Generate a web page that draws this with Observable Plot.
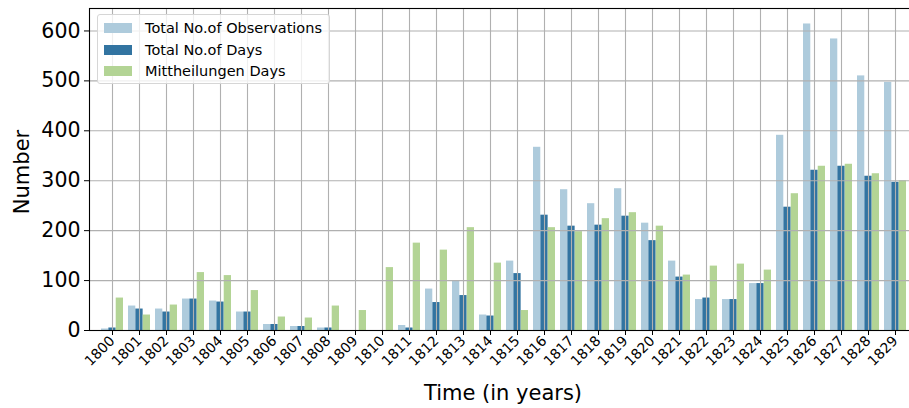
<!DOCTYPE html>
<html>
<head>
<meta charset="utf-8">
<script src="https://cdn.jsdelivr.net/npm/d3@7"></script>
<script src="https://cdn.jsdelivr.net/npm/@observablehq/plot@0.6"></script>
<style>
html, body { margin: 0; padding: 0; background: #fff; overflow: hidden; }
#wrap { position: relative; width: 909px; height: 408px; font-family: "DejaVu Sans", sans-serif; overflow: hidden; }
#wrap svg { display: block; max-width: none !important; }
#wrap svg g[aria-label="y-axis tick label"] text { font-size: 20.5px; }
#wrap svg g[aria-label="x-axis tick label"] text { font-size: 14px; }
.legend { position: absolute; left: 97px; top: 14px; width: 233px; height: 70px; box-sizing: border-box;
  border: 1px solid #d6d6d6; border-radius: 3px; background: rgba(255,255,255,0.8); }
.legend .row { position: absolute; left: 6px; height: 20px; display: flex; align-items: center; }
.legend .sw { width: 28px; height: 10px; margin-right: 13px; }
.legend .lab { font-size: 14.5px; color: #000; white-space: nowrap; }
.title { position: absolute; font-size: 21px; color: #000; white-space: nowrap; }
</style>
</head>
<body>
<div id="wrap"></div>
<script>
const years = ["1800","1801","1802","1803","1804","1805","1806","1807","1808","1809",
  "1810","1811","1812","1813","1814","1815","1816","1817","1818","1819",
  "1820","1821","1822","1823","1824","1825","1826","1827","1828","1829"];
const observations = [3,49,43,63,59,37,12,8,5,0,0,10,83,99,31,139,367,282,254,284,215,139,62,62,94,391,614,584,510,497];
const days = [5,43,37,63,57,37,12,8,5,0,0,5,56,70,29,114,231,209,211,229,180,107,65,62,94,247,321,329,309,297];
const mittheilungen = [65,31,51,116,110,80,27,25,49,40,126,175,161,206,135,40,206,198,224,236,209,111,129,133,121,274,329,333,314,300];
const seriesNames = ["Total No.of Observations", "Total No.of Days", "Mittheilungen Days"];
const yTicks = [0, 100, 200, 300, 400, 500, 600];

const colors = ["#aecbdc", "#3274a1", "#b3d495"];

const rows = years.map((y, i) => ({year: y, obs: observations[i], days: days[i], mitt: mittheilungen[i]}));

// The plot area runs past the picture's right edge (to 917px), as in the original; the wrapper clips at 909px.
const W = 917, H = 408, mL = 89, mT = 8, mB = 78;
const step = (W - mL) / years.length;
const third = step * 0.8 / 3;

const chart = Plot.plot({
  width: W, height: H,
  marginLeft: mL, marginRight: 0, marginTop: mT, marginBottom: mB,
  style: {fontFamily: "DejaVu Sans, sans-serif", background: "white", color: "black", maxWidth: "none"},
  x: {type: "band", domain: years, paddingInner: 0.2, paddingOuter: 0.1, align: 0.5, label: null},
  y: {domain: [0, 645], label: null},
  marks: [
    Plot.barY(rows, {x: "year", y: "obs", fill: colors[0], insetLeft: 0, insetRight: 2 * third}),
    Plot.barY(rows, {x: "year", y: "days", fill: colors[1], insetLeft: third, insetRight: third}),
    Plot.barY(rows, {x: "year", y: "mitt", fill: colors[2], insetLeft: 2 * third, insetRight: 0}),
    Plot.gridY(yTicks, {stroke: "#b0b0b0", strokeOpacity: 1, strokeWidth: 1.1}),
    Plot.gridX(years, {stroke: "#b0b0b0", strokeOpacity: 1, strokeWidth: 1.1}),
    Plot.axisY(yTicks, {tickSize: 5, tickPadding: 4, fontSize: 20.5, label: null}),
    Plot.axisX(years, {tickRotate: -45, tickSize: 5, tickPadding: 3, fontSize: 14, label: null}),
    Plot.frame({stroke: "black", strokeWidth: 1.1})
  ]
});

const wrap = document.getElementById("wrap");
wrap.appendChild(chart);

// Legend
const legend = document.createElement("div");
legend.className = "legend";
seriesNames.forEach((name, i) => {
  const row = document.createElement("div");
  row.className = "row";
  row.style.top = (3 + i * 21.7) + "px";
  const sw = document.createElement("div");
  sw.className = "sw";
  sw.style.background = colors[i];
  const lab = document.createElement("div");
  lab.className = "lab";
  lab.textContent = name;
  row.appendChild(sw);
  row.appendChild(lab);
  legend.appendChild(row);
});
wrap.appendChild(legend);

// Axis titles
const xt = document.createElement("div");
xt.className = "title";
xt.textContent = "Time (in years)";
xt.style.left = "503px"; xt.style.top = "393px";
xt.style.transform = "translate(-50%, -50%)";
wrap.appendChild(xt);

const yt = document.createElement("div");
yt.className = "title";
yt.textContent = "Number";
yt.style.left = "22px"; yt.style.top = "172px";
yt.style.transform = "translate(-50%, -50%) rotate(-90deg)";
wrap.appendChild(yt);
</script>
</body>
</html>
